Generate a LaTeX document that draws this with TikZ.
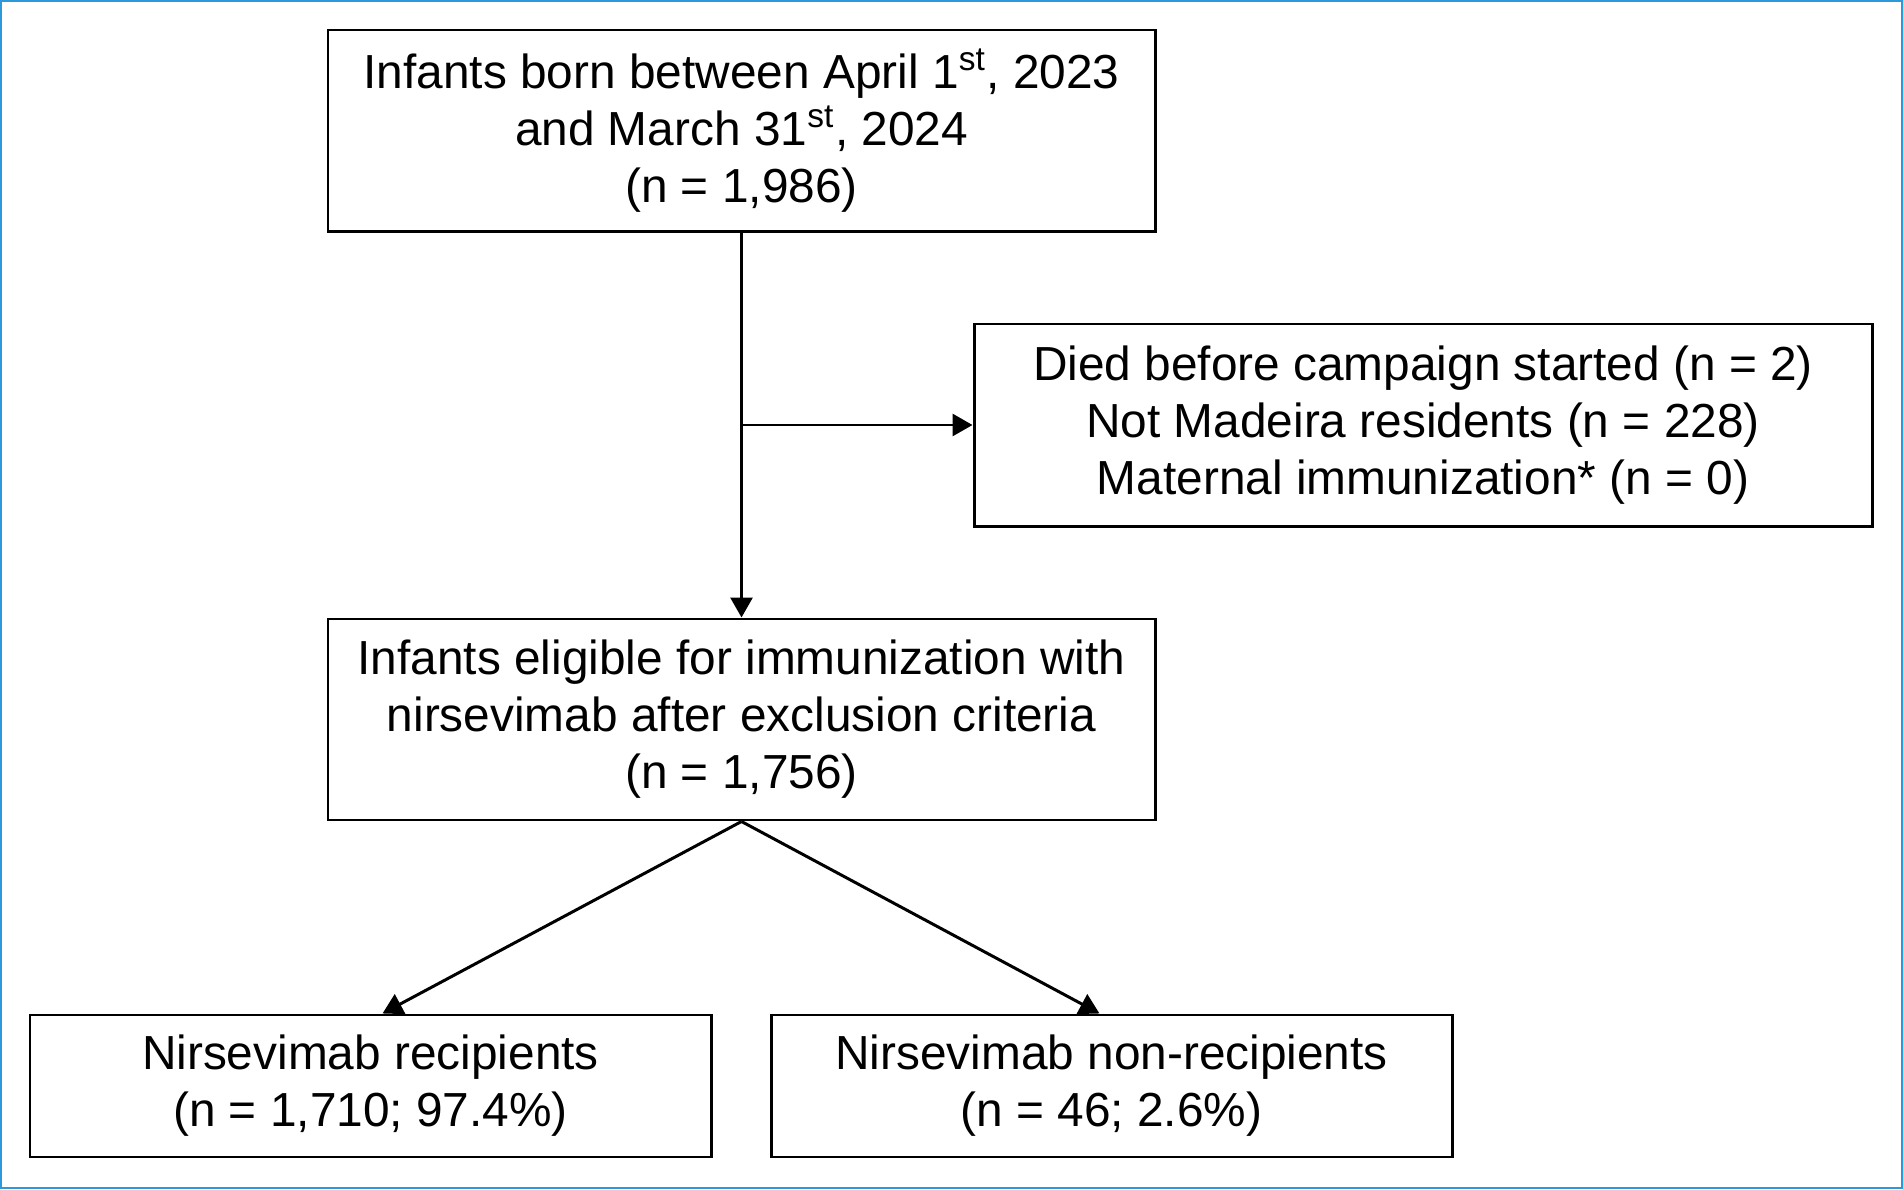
\documentclass[tikz,border=0pt]{standalone}
\usepackage{fontspec}
\setmainfont{Liberation Sans}
\usepackage{xcolor}
\usepackage{tikz}
\usetikzlibrary{arrows.meta, positioning, calc}
\definecolor{frameblue}{RGB}{45,152,218}
\tikzstyle{arrow} = [line width=0.85pt,-{Triangle[length=0.2cm,width=0.22cm]}]
\tikzstyle{process} = [rectangle, line width=0.85pt, draw=black, align=center, inner sep=0pt, font=\fontsize{13.6pt}{16.2pt}\selectfont]
\tikzstyle{bigbox} = [process, minimum width=8.27cm, minimum height=2.01cm]
\tikzstyle{exclbox} = [process, minimum width=8.98cm, minimum height=2.02cm]
\tikzstyle{endbox} = [process, minimum width=6.81cm, minimum height=1.42cm]

\begin{document}
\begin{tikzpicture}
\useasboundingbox (0,0) rectangle (19.03,-11.89);
\draw [frameblue, line width=0.7pt] (0.012,-0.012) rectangle (19.018,-11.878);
%----------------------------------------------------------------------------
% Placement of flowchart nodes
\node (start) [bigbox] at (7.415,-1.305) {Infants born between April 1\textsuperscript{st}, 2023\\and March 31\textsuperscript{st}, 2024\\(n = 1,986)};
\node (eligible) [bigbox, below = 3.85cm of start] {Infants eligible for immunization with\\nirsevimab after exclusion criteria\\(n = 1,756)};
\coordinate (split) at ($(start.south)!0.5!(eligible.north)$);

% exclusion block
\node (excl) [exclbox, right = 2.31cm of split] {Died before campaign started (n = 2)\\Not Madeira residents (n = 228)\\Maternal immunization* (n = 0)};

% recipients
\node (recip) [endbox, below = 1.92cm of eligible, xshift = -3.71cm] {Nirsevimab recipients\\(n = 1,710; 97.4\%)};
\node (nonrecip) [endbox, below = 1.92cm of eligible, xshift = 3.70cm] {Nirsevimab non-recipients\\(n = 46; 2.6\%)};

%----------------------------------------------------------------------------
% Draw lines
\draw [arrow] (start) -- (eligible);
\draw [arrow] (split) -- (excl.west);
\draw [arrow] (eligible.south) -- ([xshift=0.12cm]recip.north);
\draw [arrow] (eligible.south) -- ([xshift=-0.12cm]nonrecip.north);

\end{tikzpicture}
\end{document}
